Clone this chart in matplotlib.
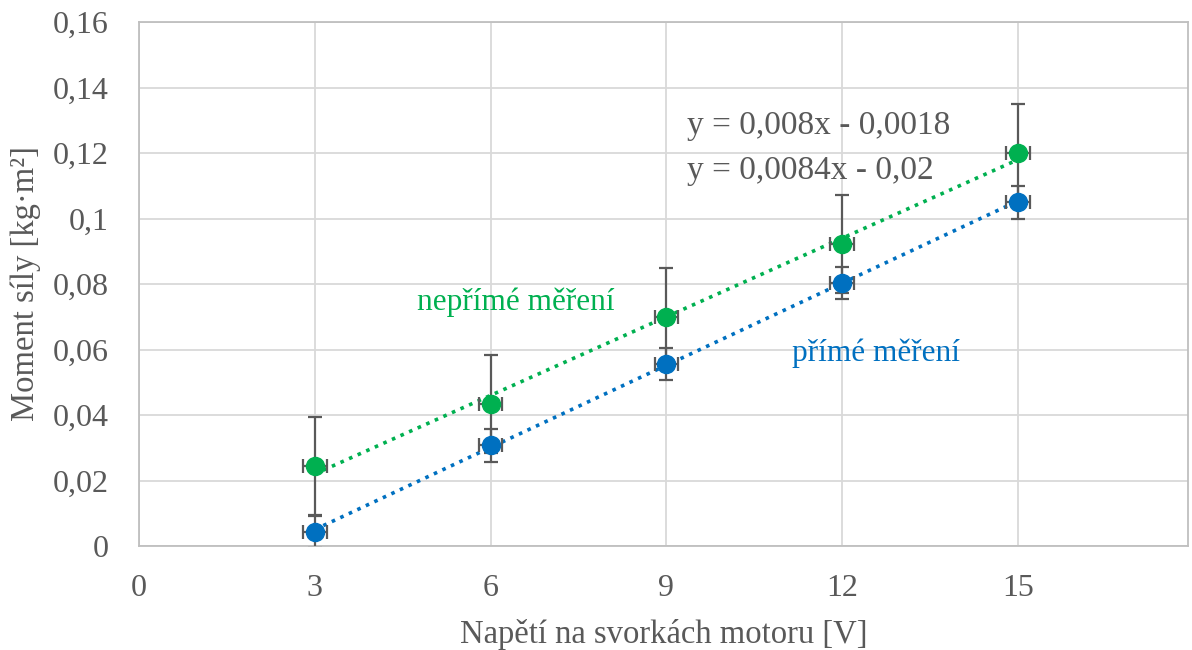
import matplotlib
matplotlib.use("Agg")
import matplotlib.pyplot as plt
import numpy as np

plt.rcParams['font.family'] = ['Liberation Serif', 'DejaVu Serif']

# Measured voltage [V]
napeti = [3, 6, 9, 12, 15]
# Torque, indirect measurement
neprime = [0.0244, 0.0434, 0.0700, 0.0922, 0.1200]
# Torque, direct measurement
prime = [0.0043, 0.0308, 0.0556, 0.0803, 0.1050]
# Uncertainties
chyba_x = 0.2
chyba_neprime = 0.015
chyba_prime = 0.005

x_ticks = [0, 3, 6, 9, 12, 15]
y_ticks = [0, 0.02, 0.04, 0.06, 0.08, 0.1, 0.12, 0.14, 0.16]
y_labels = ["0", "0,02", "0,04", "0,06", "0,08", "0,1", "0,12", "0,14", "0,16"]

green = "#00B050"
blue = "#0070C0"
grey_text = "#595959"

fig = plt.figure(figsize=(11.92, 6.5), dpi=100)
ax = fig.add_axes([0.1166, 0.16, 0.88, 0.806])

x = np.array(napeti, dtype=float)
for vals, err, col in [(neprime, chyba_neprime, green), (prime, chyba_prime, blue)]:
    y = np.array(vals)
    k, q = np.polyfit(x, y, 1)
    xs = np.linspace(x.min(), x.max(), 50)
    ax.plot(xs, k * xs + q, linestyle=(0, (1, 1.6)), color=col, lw=2.6, zorder=3)
    ax.errorbar(x, y, yerr=err, xerr=chyba_x, fmt='none', ecolor=grey_text,
                elinewidth=1.6, capsize=5, capthick=1.6, zorder=4)
    ax.plot(x, y, 'o', color=col, markersize=13, zorder=5)

ax.set_xlim(0, 17.9)
ax.set_ylim(0, 0.16)
ax.set_xticks(x_ticks)
ax.set_xticklabels([str(t) for t in x_ticks])
ax.set_yticks(y_ticks)
ax.set_yticklabels(y_labels)
ax.tick_params(length=0, labelsize=23, labelcolor=grey_text)
ax.tick_params(axis='y', pad=22)
ax.tick_params(axis='x', pad=20)
ax.grid(True, color="#D9D9D9", lw=1.3, zorder=0)
ax.set_axisbelow(True)
for s in ax.spines.values():
    s.set_color("#BFBFBF")
    s.set_linewidth(1.3)

ax.set_xlabel("Napětí na svorkách motoru [V]", fontsize=23.5, color=grey_text, labelpad=12)
ax.set_ylabel("Moment síly [kg·m²]", fontsize=23.5, color=grey_text, labelpad=8)

ax.text(9.35, 0.1283, "y = 0,008x - 0,0018", fontsize=24, color=grey_text, va='center')
ax.text(9.35, 0.1146, "y = 0,0084x - 0,02", fontsize=24, color=grey_text, va='center')
ax.text(4.75, 0.0745, "nepřímé měření", fontsize=22.5, color=green, va='center')
ax.text(11.15, 0.0590, "přímé měření", fontsize=22.5, color=blue, va='center')

fig.savefig("out.png", dpi=100)
